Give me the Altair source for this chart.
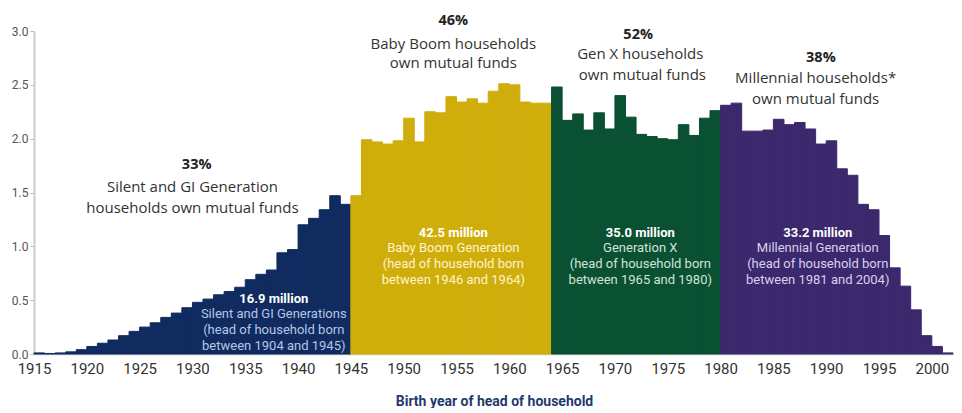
import altair as alt
import pandas as pd

# ---------------- data ----------------
years = list(range(1916, 2003))
households_millions = [
    # 1916-1945
    0.01, 0.005, 0.01, 0.02, 0.04, 0.07, 0.10, 0.13, 0.17, 0.21,
    0.25, 0.29, 0.34, 0.38, 0.43, 0.48, 0.51, 0.55, 0.58, 0.62,
    0.69, 0.74, 0.78, 0.94, 0.97, 1.20, 1.26, 1.34, 1.47, 1.39,
    # 1946-1964
    1.47, 1.99, 1.97, 1.95, 1.98, 2.19, 1.97, 2.25, 2.24, 2.39,
    2.34, 2.37, 2.33, 2.44, 2.51, 2.50, 2.34, 2.33, 2.33,
    # 1965-1980
    2.48, 2.17, 2.23, 2.08, 2.24, 2.09, 2.40, 2.20, 2.04, 2.02,
    2.00, 1.99, 2.13, 2.03, 2.19, 2.26,
    # 1981-2002
    2.31, 2.33, 2.07, 2.07, 2.08, 2.18, 2.13, 2.15, 2.09, 1.95,
    1.98, 1.72, 1.66, 1.39, 1.34, 1.10, 0.80, 0.63, 0.41, 0.17,
    0.07, 0.01,
]
generations = ["Silent and GI", "Baby Boom", "Gen X", "Millennial"]
gen_last_year = [1945, 1964, 1980, 2004]
bar_colors = ["#102b5f", "#cfad0b", "#0a5033", "#3b286d"]
text_colors = ["#b7c5e6", "#fff4c8", "#cfe4d7", "#d8d0ee"]

x_ticks = list(range(1915, 2001, 5))
y_ticks = [0.0, 0.5, 1.0, 1.5, 2.0, 2.5, 3.0]

# headline annotations above the bars
top_pct = ["33%", "46%", "52%", "38%"]
top_pct_x = [1930.4, 1954.7, 1972.2, 1989.5]
top_pct_y = [1.755, 3.09, 2.96, 2.75]
top_lines = ["Silent and GI Generation", "households own mutual funds",
             "Baby Boom households", "own mutual funds",
             "Gen X households", "own mutual funds",
             "Millennial households*", "own mutual funds"]
top_lines_x = [1930.0, 1930.0, 1954.7, 1954.7, 1972.4, 1972.6, 1989.0, 1989.0]
top_lines_y = [1.555, 1.356, 2.875, 2.703, 2.782, 2.591, 2.568, 2.368]

# labels inside the bars
in_totals = ["16.9 million", "42.5 million", "35.0 million", "33.2 million"]
in_names = ["Silent and GI Generations", "Baby Boom Generation",
            "Generation X", "Millennial Generation"]
in_spans = ["between 1904 and 1945)", "between 1946 and 1964)",
            "between 1965 and 1980)", "between 1981 and 2004)"]
in_x = [1937.7, 1954.7, 1972.4, 1989.2]
in_y_navy = [0.511, 0.372, 0.223, 0.074]
in_y_other = [1.124, 0.985, 0.836, 0.687]

# ---------------- tables ----------------
def gen_of(y):
    for g, last in zip(generations, gen_last_year):
        if y <= last:
            return g
    return generations[-1]

df = pd.DataFrame({"year": years, "value": households_millions})
df["start"] = df["year"] - 1          # each year's bar spans [year-1, year]
df["gen"] = df["year"].map(gen_of)

pct_df = pd.DataFrame({"x": top_pct_x, "y": top_pct_y, "t": top_pct})
lines_df = pd.DataFrame({"x": top_lines_x, "y": top_lines_y, "t": top_lines})

bold_rows, reg_rows = [], []
for i, g in enumerate(generations):
    ys = in_y_navy if i == 0 else in_y_other
    bold_rows.append({"x": in_x[i], "y": ys[0], "t": in_totals[i]})
    for txt, yy in zip([in_names[i], "(head of household born", in_spans[i]], ys[1:]):
        reg_rows.append({"x": in_x[i], "y": yy, "t": txt, "gen": g})
in_bold_df = pd.DataFrame(bold_rows)
in_reg_df = pd.DataFrame(reg_rows)

NARROW = "Roboto, sans-serif"
SANS = "Open Sans, Noto Sans, sans-serif"

xscale = alt.Scale(domain=[1915, 2002.1], nice=False, zero=False)
yscale = alt.Scale(domain=[0, 3], nice=False)

bars = alt.Chart(df).mark_rect(strokeWidth=1).encode(
    x=alt.X("start:Q", scale=xscale,
            axis=alt.Axis(values=x_ticks, format="d", grid=False, ticks=False,
                          labelFlush=False, labelOverlap=False,
                          domainColor="#cccccc", domainWidth=1.5,
                          labelFont=NARROW, labelFontSize=15, labelColor="#333333",
                          labelPadding=7,
                          title="Birth year of head of household",
                          titleFont=NARROW, titleFontSize=14, titleFontWeight="bold",
                          titleColor="#1f3a6e", titlePadding=18)),
    x2="year:Q",
    y=alt.Y("value:Q", scale=yscale,
            axis=alt.Axis(values=y_ticks, format=".1f", grid=False,
                          tickSize=4, tickColor="#bbbbbb", domainColor="#cccccc",
                          domainWidth=2, labelFont=NARROW, labelFontSize=12,
                          labelColor="#555555", labelPadding=2, title=None)),
    y2=alt.datum(0),
    color=alt.Color("gen:N", scale=alt.Scale(domain=generations, range=bar_colors), legend=None),
    stroke=alt.Stroke("gen:N", scale=alt.Scale(domain=generations, range=bar_colors), legend=None),
)

def txt_enc():
    return dict(x=alt.X("x:Q", scale=xscale, axis=None),
                y=alt.Y("y:Q", scale=yscale, axis=None),
                text=alt.Text("t:N"))

pct = alt.Chart(pct_df).mark_text(font=SANS, fontSize=14.5, fontWeight="bold",
                                  color="#222222", baseline="middle").encode(**txt_enc())
lines = alt.Chart(lines_df).mark_text(font=SANS, fontSize=15, color="#333333",
                                      baseline="middle").encode(**txt_enc())
in_bold = alt.Chart(in_bold_df).mark_text(font=NARROW, fontSize=13, fontWeight="bold",
                                          color="#ffffff", baseline="middle").encode(**txt_enc())
in_reg = alt.Chart(in_reg_df).mark_text(font=NARROW, fontSize=13,
                                        baseline="middle").encode(
    color=alt.Color("gen:N", scale=alt.Scale(domain=generations, range=text_colors), legend=None),
    **txt_enc(),
)

chart = alt.layer(bars, pct, lines, in_bold, in_reg).resolve_scale(
    color="independent"
).resolve_axis(
    x="independent", y="independent"
).properties(
    width=920, height=323,
    padding={"left": 3, "top": 5, "right": 0, "bottom": 0},
    background="#ffffff",
).configure_view(stroke=None)

chart.save("out.html", embed_options={"renderer": "svg", "actions": False})
